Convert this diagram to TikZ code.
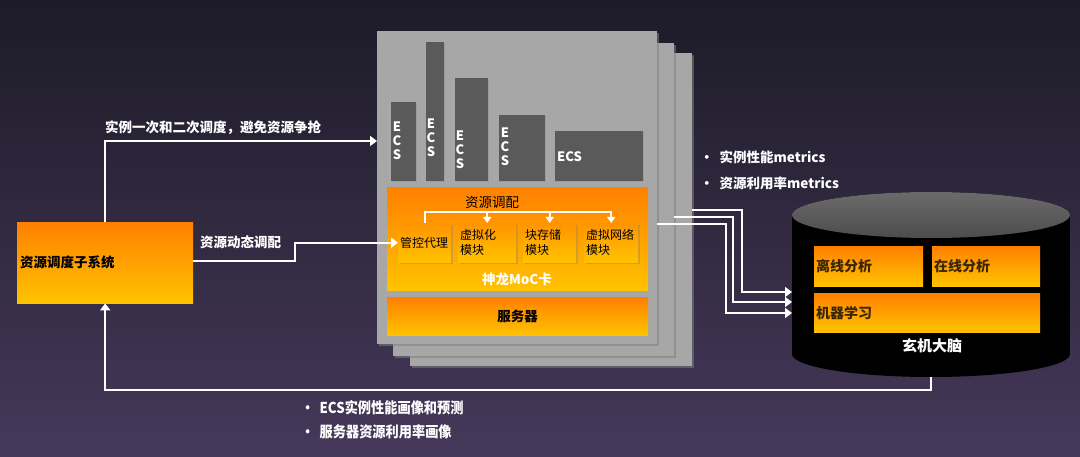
\documentclass[tikz,border=0pt]{standalone}
\usepackage{fontspec}
\setmainfont{Noto Sans CJK SC}
\usetikzlibrary{arrows.meta,positioning,calc,shadows}

\definecolor{bgtop}{HTML}{1C1B27}
\definecolor{bgbot}{HTML}{46385A}
\definecolor{pagegray}{HTML}{A7A7A7}
\definecolor{ecsgray}{HTML}{5A5A5A}
\definecolor{orangetop}{HTML}{FF8000}
\definecolor{orangebot}{HTML}{FFC300}
\definecolor{darktxt}{HTML}{3A2606}

\tikzset{
  flow/.style={draw=white, line width=2pt, -{Triangle[width=10pt,length=7pt]}},
  flowsmall/.style={draw=white, line width=1.6pt, -{Triangle[width=8pt,length=6pt]}},
  plain/.style={draw=white, line width=2pt},
  orangebox/.style={rectangle, inner sep=0pt, anchor=north west, top color=orangetop, bottom color=orangebot},
  subbox/.style={orangebox, top color=orangetop!70!orangebot, drop shadow={opacity=0.35, shadow xshift=1.5pt, shadow yshift=-1.5pt}},
  page/.style={rectangle, inner sep=0pt, anchor=north west, fill=pagegray, drop shadow={opacity=0.55, shadow xshift=2pt, shadow yshift=-2pt}},
  ecsbar/.style={rectangle, inner sep=0pt, anchor=south west, fill=ecsgray, drop shadow={opacity=0.3, shadow xshift=1pt, shadow yshift=-1pt}},
  ecstxt/.style={text=white, font=\bfseries\fontsize{13}{14}\selectfont, align=center, inner sep=0pt},
  wlabel/.style={text=white, font=\bfseries\fontsize{13.5}{16}\selectfont, inner sep=0pt},
  blabel/.style={text=black, font=\bfseries\fontsize{13.5}{16}\selectfont, inner sep=0pt},
  sublabel/.style={text=black, font=\fontsize{12}{15}\selectfont, align=left, inner sep=0pt, anchor=west},
  cyllabel/.style={text=darktxt, font=\bfseries\fontsize{14}{16}\selectfont, inner sep=0pt, anchor=west},
}

\begin{document}
\begin{tikzpicture}[x=1pt, y=-1pt]
\fill[top color=bgtop, bottom color=bgbot] (0,0) rectangle (1080,457);
\useasboundingbox (0,0) rectangle (1080,457);

% scheduling subsystem
\node[orangebox, minimum width=176pt, minimum height=81pt] (sched) at (17,222) {};
\node[blabel, anchor=west] (schedtxt) at ([xshift=3pt]sched.west) {资源调度子系统};

% server stack
\begin{scope}
  \node[page, minimum width=282pt, minimum height=313pt] (page3) at (410,53) {};
  \node[page, minimum width=281pt, minimum height=313pt] (page2) at (393,43) {};
  \node[page, minimum width=280pt, minimum height=313pt] (page1) at (377,31) {};

  \node[ecsbar, minimum width=25pt, minimum height=79pt] (ecs1) at (391,181) {};
  \node[ecsbar, minimum width=18pt, minimum height=139pt] (ecs2) at (426,181) {};
  \node[ecsbar, minimum width=33pt, minimum height=103pt] (ecs3) at (455,181) {};
  \node[ecsbar, minimum width=46pt, minimum height=66pt] (ecs4) at (499,181) {};
  \node[ecsbar, minimum width=88pt, minimum height=50pt] (ecs5) at (555,181) {};
  \node[ecstxt] (ecs1txt) at (397,141) {E\\C\\S};
  \node[ecstxt] (ecs2txt) at (431,138) {E\\C\\S};
  \node[ecstxt] (ecs3txt) at (460,150) {E\\C\\S};
  \node[ecstxt] (ecs4txt) at (505,147) {E\\C\\S};
  \node[ecstxt, anchor=west] (ecs5txt) at (557,157) {ECS};

  \node[orangebox, minimum width=261pt, minimum height=103pt] (moc) at (387,187) {};
  \node[blabel, font=\fontsize{13.5}{16}\selectfont] (alloc) at (492,202) {资源调配};
  \node[subbox, minimum width=53pt, minimum height=39pt] (ctrl) at (398,223) {};
  \node[subbox, minimum width=58pt, minimum height=39pt] (virt) at (458,223) {};
  \node[subbox, minimum width=53pt, minimum height=39pt] (blk) at (523,223) {};
  \node[subbox, minimum width=54pt, minimum height=39pt] (net) at (584,223) {};
  \node[sublabel] (ctrltxt) at ([xshift=2pt]ctrl.west) {管控代理};
  \node[sublabel] (virttxt) at ([xshift=2pt]virt.west) {虚拟化\\模块};
  \node[sublabel] (blktxt) at ([xshift=2pt]blk.west) {块存储\\模块};
  \node[sublabel] (nettxt) at ([xshift=2pt]net.west) {虚拟网络\\模块};
  \node[wlabel] (moctxt) at (517,279) {神龙MoC卡};

  \node[orangebox, minimum width=261pt, minimum height=38pt] (server) at (387,297) {};
  \node[blabel] (servertxt) at (server.center) {服务器};

  \draw[flowsmall] (ctrl.north) -- (ctrl.north |- 0,212) -| (net.north);
  \draw[flowsmall] (virt.north |- 0,212) -- (virt.north);
  \draw[flowsmall] (blk.north |- 0,212) -- (blk.north);
\end{scope}

% cylinder
\node[inner sep=0pt, anchor=north west, minimum width=278pt, minimum height=185pt] (brain) at (792,192) {};
\fill[black] (931,354) ellipse [x radius=139, y radius=23];
\fill[black] (792,215) rectangle (1070,354);
\fill[top color=ecsgray!90!white, bottom color=ecsgray!85!black] (931,215) ellipse [x radius=139, y radius=23];
\node[orangebox, minimum width=109pt, minimum height=40pt] (offline) at (814,246) {};
\node[orangebox, minimum width=108pt, minimum height=40pt] (online) at (932,246) {};
\node[orangebox, minimum width=226pt, minimum height=39pt] (ml) at (814,293) {};
\node[cyllabel] (offlinetxt) at ([xshift=2pt]offline.west) {离线分析};
\node[cyllabel] (onlinetxt) at ([xshift=2pt]online.west) {在线分析};
\node[cyllabel] (mltxt) at ([xshift=2pt]ml.west) {机器学习};
\node[wlabel, font=\bfseries\fontsize{15}{17}\selectfont] (braintxt) at (932,346) {玄机大脑};
\coordinate (brainbot) at (931,377);

% connectors
\draw[flow] (sched.north) |- (page1.west |- 0,141);
\node[wlabel, anchor=west] (firstlbl) at (105,128) {实例一次和二次调度，避免资源争抢};

\draw[flow] (sched.east |- 0,261) -- (295,261) |- (ctrl.west);
\node[wlabel, anchor=west] (dynlbl) at (200,242) {资源动态调配};

\draw[flow] (page3.east |- 0,210) -- (742,210) |- (brain.west |- 0,292);
\draw[flow] (page2.east |- 0,217) -- (733,217) |- (brain.west |- 0,302);
\draw[flow] (page1.east |- 0,224) -- (726,224) |- (brain.west |- 0,313);
\node[wlabel, anchor=west] (metric1) at (700,157) {·\hspace{6pt}实例性能metrics};
\node[wlabel, anchor=west] (metric2) at (700,183) {·\hspace{6pt}资源利用率metrics};

\draw[flow] (brainbot) |- (sched.south |- 0,390) -- (sched.south);
\node[wlabel, anchor=west, xscale=0.88, font=\bfseries\fontsize{15}{17}\selectfont] (portrait1) at (301,408) {·\hspace{6pt}ECS实例性能画像和预测};
\node[wlabel, anchor=west, xscale=0.88, font=\bfseries\fontsize{15}{17}\selectfont] (portrait2) at (301,432) {·\hspace{6pt}服务器资源利用率画像};
\end{tikzpicture}
\end{document}
